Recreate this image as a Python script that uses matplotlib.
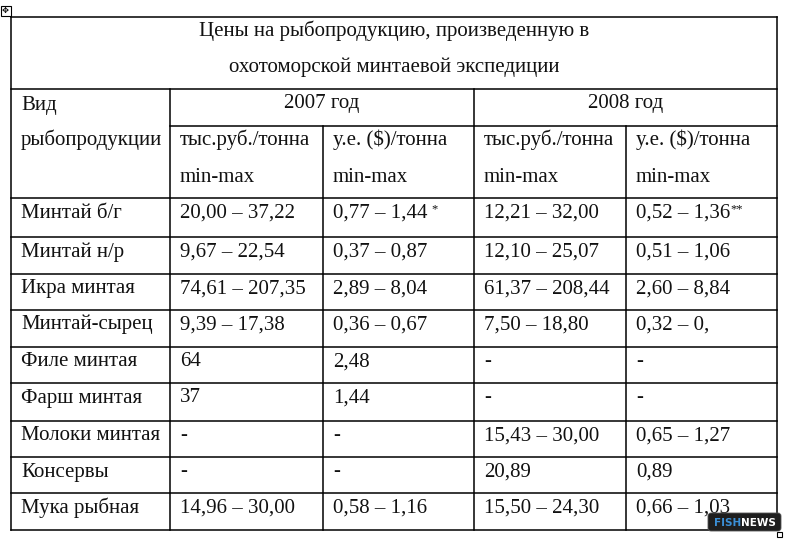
import matplotlib.pyplot as plt
from matplotlib.patches import Rectangle, FancyBboxPatch

# Table content
title_lines = ['Цены на рыбопродукцию, произведенную в',
               'охотоморской минтаевой экспедиции']
years = ['2007 год', '2008 год']
first_col_header = ['Вид', 'рыбопродукции']
unit_headers = [['тыс.руб./тонна', 'min-max'], ['у.е. ($)/тонна', 'min-max'],
                ['тыс.руб./тонна', 'min-max'], ['у.е. ($)/тонна', 'min-max']]
products = ['Минтай б/г', 'Минтай н/р', 'Икра минтая', 'Минтай-сырец',
            'Филе минтая', 'Фарш минтая', 'Молоки минтая', 'Консервы',
            'Мука рыбная']
rub_2007 = ['20,00 – 37,22', '9,67 – 22,54', '74,61 – 207,35', '9,39 – 17,38',
            '64', '37', '-', '-', '14,96 – 30,00']
usd_2007 = ['0,77 – 1,44', '0,37 – 0,87', '2,89 – 8,04', '0,36 – 0,67',
            '2,48', '1,44', '-', '-', '0,58 – 1,16']
rub_2008 = ['12,21 – 32,00', '12,10 – 25,07', '61,37 – 208,44', '7,50 – 18,80',
            '-', '-', '15,43 – 30,00', '20,89', '15,50 – 24,30']
usd_2008 = ['0,52 – 1,36', '0,51 – 1,06', '2,60 – 8,84', '0,32 – 0,',
            '-', '-', '0,65 – 1,27', '0,89', '0,66 – 1,03']
# footnote marks: (column index, row index, mark, leading space)
footnotes = [(2, 0, '*', True), (4, 0, '**', False)]

# Layout in pixels
W, H = 792, 542
col_x = [11, 170, 323, 474, 626, 777]
title_top, year_top, unit_top, body_top = 17, 89, 126, 198
row_y = [198, 237, 274, 310, 347, 383, 421, 457, 493, 530]
pad = 10
FONT = 'Liberation Serif'
FS = 15
INK = '#111111'

fig = plt.figure(figsize=(W / 100, H / 100), dpi=100)
ax = fig.add_axes([0, 0, 1, 1])
ax.set_xlim(0, W)
ax.set_ylim(H, 0)
ax.axis('off')

lw = 1.1

def hline(y, x0, x1):
    ax.plot([x0, x1], [y, y], color='black', lw=lw, solid_capstyle='projecting')

def vline(x, y0, y1):
    ax.plot([x, x], [y0, y1], color='black', lw=lw, solid_capstyle='projecting')

# grid lines
hline(title_top, col_x[0], col_x[-1])
hline(year_top, col_x[0], col_x[-1])
hline(unit_top, col_x[1], col_x[-1])
for y in row_y:
    hline(y, col_x[0], col_x[-1])
vline(col_x[0], title_top, row_y[-1])
vline(col_x[-1], title_top, row_y[-1])
vline(col_x[1], year_top, row_y[-1])
vline(col_x[3], year_top, row_y[-1])
vline(col_x[2], unit_top, row_y[-1])
vline(col_x[4], unit_top, row_y[-1])

def put(x, y, s, ha='left', size=FS):
    return ax.text(x, y, s, ha=ha, va='baseline', fontsize=size,
                   family=FONT, color=INK)

# title
put((col_x[0] + col_x[-1]) / 2, title_top + 19, title_lines[0], ha='center')
put((col_x[0] + col_x[-1]) / 2, title_top + 55, title_lines[1], ha='center')

# header
put(col_x[0] + pad, year_top + 21, first_col_header[0])
put(col_x[0] + pad, unit_top + 19, first_col_header[1])
put((col_x[1] + col_x[3]) / 2, year_top + 19, years[0], ha='center')
put((col_x[3] + col_x[5]) / 2, year_top + 19, years[1], ha='center')
for i, (a, b) in enumerate(unit_headers):
    put(col_x[i + 1] + pad, unit_top + 19, a)
    put(col_x[i + 1] + pad, unit_top + 56, b)

# body
columns = [products, rub_2007, usd_2007, rub_2008, usd_2008]
artists = {}
for c, col in enumerate(columns):
    for r, val in enumerate(col):
        artists[(c, r)] = put(col_x[c] + pad, row_y[r] + 19.5, val)

for c, r, mark, space in footnotes:
    ax.annotate(mark, xy=(1, 1), xycoords=artists[(c, r)],
                xytext=(3 if space else 0, 0), textcoords='offset points',
                ha='left', va='top', fontsize=9, family=FONT, color=INK)

# small editor markers
ax.add_patch(Rectangle((0.5, 5.5), 10, 10, fill=False, lw=0.8, ec='black'))
ax.text(5.5, 10.5, '✥', ha='center', va='center', fontsize=6,
        family='DejaVu Sans', color='black')
ax.add_patch(Rectangle((777, 532), 5, 5, fill=False, lw=0.8, ec='black'))

# watermark
ax.add_patch(FancyBboxPatch((708, 513), 73, 18, boxstyle='round,pad=0,rounding_size=3',
                            fc='#1e1e1e', ec='#555555', lw=0.6, zorder=5))
t1 = ax.text(714, 522.5, 'FISH', ha='left', va='center', fontsize=7.5,
             weight='bold', family='DejaVu Sans', color='#3b8fd6', zorder=6)
ax.annotate('NEWS', xy=(1, 0.5), xycoords=t1, ha='left', va='center',
            fontsize=7.5, weight='bold', family='DejaVu Sans', color='white',
            zorder=6)

fig.savefig('out.png', dpi=100, facecolor='white')
